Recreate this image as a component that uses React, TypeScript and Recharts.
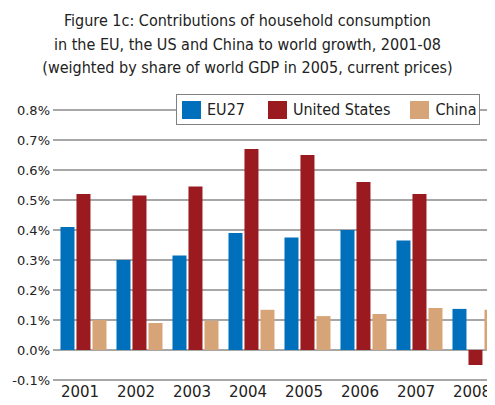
import React from "react";
import { BarChart, Bar, XAxis, YAxis, CartesianGrid, Legend } from "recharts";

const years = ["2001", "2002", "2003", "2004", "2005", "2006", "2007", "2008"];
const eu27 = [0.41, 0.3, 0.315, 0.39, 0.375, 0.4, 0.365, 0.137];
const unitedStates = [0.52, 0.515, 0.545, 0.67, 0.65, 0.56, 0.52, -0.05];
const china = [0.1, 0.09, 0.098, 0.134, 0.113, 0.12, 0.14, 0.134];
const yTicks = [-0.1, 0, 0.1, 0.2, 0.3, 0.4, 0.5, 0.6, 0.7, 0.8];
const titleLines = [
  "Figure 1c: Contributions of household consumption",
  "in the EU, the US and China to world growth, 2001-08",
  "(weighted by share of world GDP in 2005, current prices)",
];
const seriesNames = ["EU27", "United States", "China"];
const seriesColors = ["#0070BC", "#9A1A20", "#D6A476"];

const data = years.map((y, i) => ({
  year: y,
  EU27: eu27[i],
  "United States": unitedStates[i],
  China: china[i],
}));

const condensed = "'DejaVu Sans Condensed', 'DejaVu Sans', sans-serif";

const LegendBox = () => (
  <div
    style={{
      position: "absolute",
      left: 168,
      top: 86,
      width: 302,
      height: 29,
      background: "#fff",
      border: "1px solid #808080",
      display: "flex",
      alignItems: "center",
      fontFamily: condensed,
      fontSize: 16,
      color: "#222",
      boxSizing: "content-box",
    }}
  >
    {seriesNames.map((n, i) => (
      <div key={n} style={{ display: "flex", alignItems: "center", marginLeft: i === 0 ? 5 : i === 1 ? 23 : 20 }}>
        <div style={{ width: 19, height: 18, background: seriesColors[i], marginRight: 6 }} />
        <span>{n}</span>
      </div>
    ))}
  </div>
);

export default function App() {
  return (
    <div style={{ position: "relative", width: 496, height: 397 }}>
      <div
        style={{
          position: "absolute",
          left: 0,
          top: 1,
          width: 479,
          textAlign: "center",
          fontFamily: condensed,
          fontSize: 16,
          lineHeight: "23.5px",
          color: "#222",
        }}
      >
        {titleLines.map((t) => (
          <div key={t}>{t}</div>
        ))}
      </div>
      <BarChart
        width={496}
        height={397}
        data={data}
        margin={{ top: 102, right: 0, bottom: 0, left: 0 }}
        barCategoryGap="8%"
        barGap={2}
      >
        <CartesianGrid vertical={false} stroke="#8a8a8a" strokeWidth={1.5} />
        <XAxis
          dataKey="year"
          axisLine={false}
          tickLine={false}
          tickSize={6}
          tickMargin={0}
          height={25}
          padding={{ left: 3, right: 0 }}
          interval={0}
          tick={{ fill: "#222", fontSize: 15, fontFamily: "'DejaVu Sans', sans-serif", dx: -4 }}
        />
        <YAxis
          domain={[-0.1, 0.8]}
          ticks={yTicks}
          width={45}
          axisLine={false}
          tickLine={false}
          tickSize={0}
          tickMargin={3}
          interval={0}
          tickFormatter={(v: number) => `${v.toFixed(1)}%`}
          tick={{ fill: "#222", fontSize: 13, fontFamily: "'DejaVu Sans', sans-serif" }}
        />
        <Legend content={() => <LegendBox />} wrapperStyle={{ position: "absolute", left: 0, top: 0 }} />
        {seriesNames.map((n, i) => (
          <Bar key={n} dataKey={n} fill={seriesColors[i]} isAnimationActive={false} />
        ))}
      </BarChart>
    </div>
  );
}
